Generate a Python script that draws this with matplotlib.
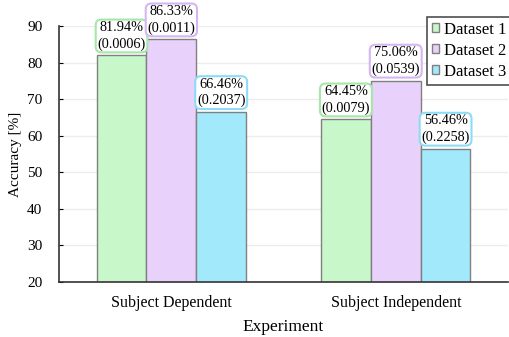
import matplotlib.pyplot as plt
import numpy as np

plt.rcParams['font.family'] = ['Liberation Serif', 'DejaVu Serif']

experiments = ['Subject Dependent', 'Subject Independent']
datasets = ['Dataset 1', 'Dataset 2', 'Dataset 3']
accuracy = [[81.94, 64.45], [86.33, 75.06], [66.46, 56.46]]
pvalues = [['0.0006', '0.0079'], ['0.0011', '0.0539'], ['0.2037', '0.2258']]

fills = ['#c8f7ca', '#e8d1fa', '#a1e9fb']
edges = ['#a6e6a8', '#d6b6f2', '#8cdcf6']

fig = plt.figure(figsize=(5.1, 3.37), dpi=100)
ax = fig.add_axes([0.116, 0.163, 0.880, 0.760])

x = np.arange(len(experiments))
w = 0.222
for i in range(3):
    pos = x + (i - 1) * w
    ax.bar(pos, accuracy[i], w, bottom=0, color=fills[i], edgecolor='#808080',
           linewidth=1, label=datasets[i], zorder=2)
    for j in range(len(experiments)):
        ax.text(pos[j], accuracy[i][j] + 1.3, '%.2f%%\n(%s)' % (accuracy[i][j], pvalues[i][j]),
                ha='center', va='bottom', fontsize=10.3, linespacing=1.3, zorder=4,
                clip_on=False,
                bbox=dict(boxstyle='round,pad=0.12,rounding_size=0.4', fc='white',
                          ec=edges[i], lw=1.5))

ax.set_ylim(20, 90)
ax.set_xlim(-0.5, 1.5)
ax.set_xticks(x)
ax.set_xticklabels(experiments, fontsize=11.5)
ax.set_yticks(range(20, 91, 10))
ax.tick_params(axis='y', labelsize=11, length=3, direction='in', pad=12)
ax.tick_params(axis='x', length=0, pad=9)
ax.set_xlabel('Experiment', fontsize=12.5, labelpad=6)
ax.set_ylabel('Accuracy [%]', fontsize=11, labelpad=4)
ax.yaxis.grid(True, color='#ececec', lw=1, zorder=0)
ax.spines['top'].set_visible(False)
ax.spines['right'].set_visible(False)
ax.spines['left'].set_color('#333333')
ax.spines['bottom'].set_color('#333333')
ax.spines['left'].set_linewidth(1.2)
ax.spines['bottom'].set_linewidth(1.2)

leg = fig.legend(loc='upper left', fontsize=12, fancybox=False, edgecolor='#222222',
                 handlelength=0.45, handleheight=0.45, handletextpad=0.3,
                 borderaxespad=0.0, bbox_to_anchor=(0.837, 0.950), labelspacing=0.3,
                 borderpad=0.3)
leg.get_frame().set_linewidth(1.2)

plt.savefig('out.png', dpi=100)
